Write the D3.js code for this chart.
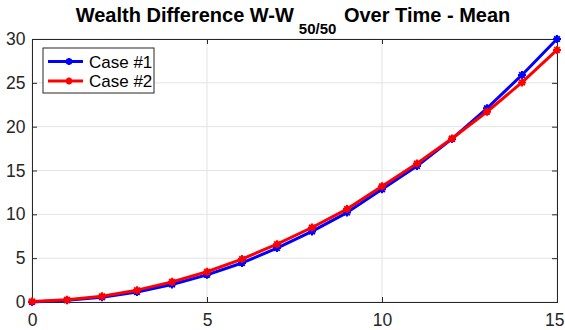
<!DOCTYPE html>
<html>
<head>
<meta charset="utf-8">
<script src="https://cdn.jsdelivr.net/npm/d3@7"></script>
<style>
  body { margin: 0; background: #fff; }
  text { font-family: "Liberation Sans", Arial, Helvetica, sans-serif; }
</style>
</head>
<body>
<div id="chart"></div>
<script>
// values
const years = [0, 1, 2, 3, 4, 5, 6, 7, 8, 9, 10, 11, 12, 13, 14, 15];
const case1 = [0, 0.2, 0.55, 1.15, 2.0, 3.1, 4.45, 6.15, 8.05, 10.2, 12.85, 15.5, 18.6, 22.1, 25.9, 30.0];
const case2 = [0.05, 0.25, 0.65, 1.35, 2.3, 3.45, 4.9, 6.6, 8.5, 10.6, 13.2, 15.8, 18.65, 21.7, 25.05, 28.75];
const xTicks = [0, 5, 10, 15];
const yTicks = [0, 5, 10, 15, 20, 25, 30];
const seriesNames = ['Case #1', 'Case #2'];
const seriesColors = ['#0000ff', '#ff0000'];

const width = 565, height = 330;
const margin = {top: 39, right: 8, bottom: 28, left: 32};
const innerW = width - margin.left - margin.right;
const innerH = height - margin.top - margin.bottom;

const svg = d3.select('#chart').append('svg')
  .attr('width', width)
  .attr('height', height);

const ctr = svg.append('g')
  .attr('transform', `translate(${margin.left},${margin.top})`);

const xScale = d3.scaleLinear().domain([0, 15]).range([0, innerW]);
const yScale = d3.scaleLinear().domain([0, 30]).range([innerH, 0]);

// grid
ctr.append('g').selectAll('line.gx')
  .data(xTicks)
  .join('line')
  .attr('x1', d => xScale(d)).attr('x2', d => xScale(d))
  .attr('y1', 0).attr('y2', innerH)
  .attr('stroke', '#e3e3e3').attr('stroke-width', 1);

ctr.append('g').selectAll('line.gy')
  .data(yTicks)
  .join('line')
  .attr('x1', 0).attr('x2', innerW)
  .attr('y1', d => yScale(d)).attr('y2', d => yScale(d))
  .attr('stroke', '#e3e3e3').attr('stroke-width', 1);

// axes (ticks inside, box around)
const axisColor = '#262626';
const xAxis = d3.axisBottom(xScale).tickValues(xTicks).tickSize(-5).tickPadding(12);
const yAxis = d3.axisLeft(yScale).tickValues(yTicks).tickSize(-5).tickPadding(6.5);
const xTop = d3.axisTop(xScale).tickValues(xTicks).tickSize(-5).tickFormat('');
const yRight = d3.axisRight(yScale).tickValues(yTicks).tickSize(-5).tickFormat('');

const styleAxis = g => {
  g.selectAll('path, line').attr('stroke', axisColor).attr('stroke-width', 1);
  g.selectAll('text').attr('fill', axisColor).style('font-size', '17.5px')
    .style('font-family', '"Liberation Sans", Arial, sans-serif');
};

const xAxisG = ctr.append('g').attr('transform', `translate(0,${innerH})`).call(xAxis).call(styleAxis);
// last label sits at the very edge of the window: keep it inside
xAxisG.selectAll('.tick text')
  .filter(d => d === xTicks[xTicks.length - 1])
  .attr('text-anchor', 'end')
  .attr('x', width - margin.left - innerW - 1);
ctr.append('g').call(yAxis).call(styleAxis);
ctr.append('g').call(xTop).call(styleAxis);
ctr.append('g').attr('transform', `translate(${innerW},0)`).call(yRight).call(styleAxis);

// series
const line = d3.line()
  .x((d, i) => xScale(years[i]))
  .y(d => yScale(d));

const star = (x, y, r) => {
  const a = r * 0.7;
  return `M${x - r},${y}L${x + r},${y}M${x},${y - r}L${x},${y + r}` +
    `M${x - a},${y - a}L${x + a},${y + a}M${x - a},${y + a}L${x + a},${y - a}`;
};

[case1, case2].forEach((vals, k) => {
  const g = ctr.append('g');
  g.append('path')
    .datum(vals)
    .attr('d', line)
    .attr('fill', 'none')
    .attr('stroke', seriesColors[k])
    .attr('stroke-width', 3)
    .attr('stroke-linejoin', 'round');
  g.selectAll('path.m')
    .data(vals)
    .join('path')
    .attr('class', 'm')
    .attr('d', (d, i) => star(xScale(years[i]), yScale(d), 4))
    .attr('stroke', seriesColors[k])
    .attr('stroke-width', 2)
    .attr('fill', 'none');
});

// legend
const legend = ctr.append('g').attr('transform', 'translate(11,9)');
legend.append('rect')
  .attr('width', 111).attr('height', 45)
  .attr('fill', '#fff').attr('stroke', axisColor).attr('stroke-width', 1);

seriesNames.forEach((name, k) => {
  const ly = 13.5 + k * 19.5;
  legend.append('line')
    .attr('x1', 5).attr('x2', 40).attr('y1', ly).attr('y2', ly)
    .attr('stroke', seriesColors[k]).attr('stroke-width', 3);
  legend.append('path')
    .attr('d', star(26, ly, 3.5))
    .attr('stroke', seriesColors[k]).attr('stroke-width', 2);
  legend.append('text')
    .attr('x', 46).attr('y', ly + 6)
    .style('font-size', '17px')
    .attr('fill', '#000')
    .text(name);
});

// title with subscript
const title = svg.append('text')
  .attr('x', 293)
  .attr('y', 22)
  .attr('text-anchor', 'middle')
  .style('font-size', '20px')
  .style('font-weight', 'bold')
  .attr('fill', '#000');
title.append('tspan').text('Wealth Difference W-W');
title.append('tspan').attr('dy', 12).attr('dx', 5).style('font-size', '15px').text('50/50');
title.append('tspan').attr('dy', -12).attr('dx', 2).text(' Over Time - Mean');
</script>
</body>
</html>
